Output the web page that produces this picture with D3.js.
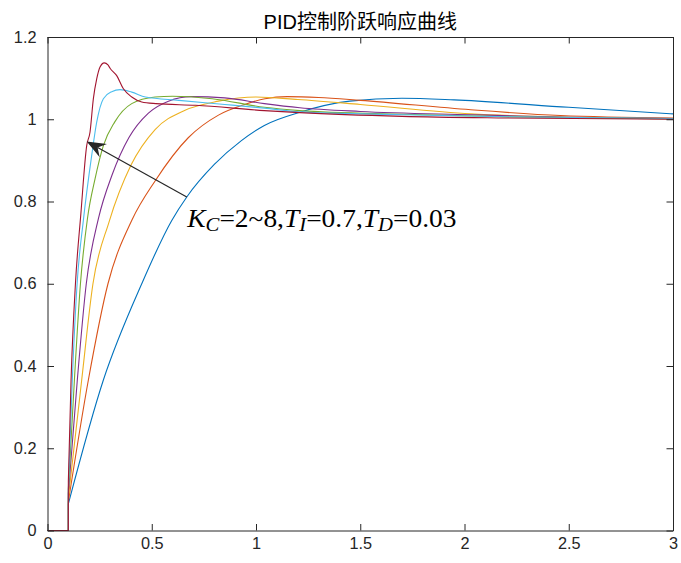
<!DOCTYPE html>
<html>
<head>
<meta charset="utf-8">
<script src="https://cdn.jsdelivr.net/npm/d3@7"></script>
<style>
  body { margin: 0; background: #fff; }
  svg { display: block; }
</style>
</head>
<body>
<script>
// step responses, one [t, y] list per Kc
const kc2 = [[0, 0], [0.1, 0], [0.1, 0.065], [0.268, 0.366], [0.452, 0.6], [0.596, 0.754], [0.668, 0.811], [0.8, 0.89], [0.93, 0.948], [1.04, 0.985], [1.21, 1.017], [1.45, 1.044], [1.7, 1.051], [1.95, 1.047], [2.5, 1.029], [3, 1.013]];
const kc3 = [[0, 0], [0.1, 0], [0.1, 0.07], [0.196, 0.366], [0.29, 0.6], [0.405, 0.755], [0.516, 0.85], [0.675, 0.955], [0.82, 1.01], [0.947, 1.036], [1.043, 1.05], [1.15, 1.055], [1.3, 1.053], [1.5, 1.046], [2.03, 1.023], [2.46, 1.009], [3, 1.003]];
const kc4 = [[0, 0], [0.1, 0], [0.1, 0.08], [0.164, 0.366], [0.218, 0.6], [0.295, 0.75], [0.4, 0.888], [0.516, 0.975], [0.66, 1.022], [0.82, 1.044], [1, 1.054], [1.2, 1.048], [1.5, 1.036], [2.03, 1.013], [2.5, 1.005], [3, 1.002]];
const kc5 = [[0, 0], [0.1, 0], [0.1, 0.09], [0.143, 0.366], [0.186, 0.6], [0.245, 0.76], [0.31, 0.865], [0.39, 0.955], [0.484, 1.015], [0.58, 1.044], [0.69, 1.055], [0.85, 1.052], [1.04, 1.038], [1.21, 1.028], [1.5, 1.019], [2.03, 1.011], [2.5, 1.005], [3, 1.002]];
const kc6 = [[0, 0], [0.1, 0], [0.1, 0.1], [0.129, 0.366], [0.158, 0.6], [0.192, 0.76], [0.228, 0.855], [0.268, 0.936], [0.322, 0.993], [0.404, 1.038], [0.516, 1.054], [0.6, 1.056], [0.79, 1.05], [1.04, 1.029], [1.21, 1.021], [1.7, 1.012], [2.2, 1.006], [3, 1.001]];
const kc7 = [[0, 0], [0.1, 0], [0.1, 0.1], [0.119, 0.366], [0.142, 0.6], [0.172, 0.754], [0.212, 0.912], [0.236, 0.993], [0.268, 1.05], [0.308, 1.067], [0.348, 1.072], [0.404, 1.066], [0.47, 1.054], [0.63, 1.046], [0.85, 1.036], [1.04, 1.027], [1.21, 1.018], [1.7, 1.011], [2.2, 1.006], [3, 1.002]];
const kc8 = [[0, 0], [0.1, 0], [0.1, 0.12], [0.113, 0.366], [0.134, 0.6], [0.16, 0.77], [0.188, 0.936], [0.204, 0.969], [0.22, 1.05], [0.236, 1.098], [0.252, 1.127], [0.272, 1.137], [0.29, 1.132], [0.3, 1.124], [0.332, 1.106], [0.364, 1.074], [0.404, 1.054], [0.452, 1.042], [0.52, 1.038], [0.71, 1.034], [1.04, 1.021], [1.21, 1.016], [1.7, 1.007], [2.2, 1.003], [3, 1]];

const curves = [kc2, kc3, kc4, kc5, kc6, kc7, kc8];
const colors = ["#0072BD", "#D95319", "#EDB120", "#7E2F8E", "#77AC30", "#4DBEEE", "#A2142F"];

const xTicks = [0, 0.5, 1, 1.5, 2, 2.5, 3];
const yTicks = [0, 0.2, 0.4, 0.6, 0.8, 1, 1.2];

const title = "PID控制阶跃响应曲线";
// arrow from the label to the Kc=8 curve, in data units
const arrowFrom = [0.668, 0.811];
const arrowTo = [0.188, 0.946];

const width = 681,
  height = 563;
const margin = { top: 37, right: 8, bottom: 32.5, left: 47.5 };
const axisColor = "#262626",
  tickFont = "'Liberation Sans', Arial, sans-serif";

const x = d3.scaleLinear().domain([0, 3]).range([margin.left, width - margin.right]);
const y = d3.scaleLinear().domain([0, 1.2]).range([height - margin.bottom, margin.top]);

const svg = d3
  .select("body")
  .append("svg")
  .attr("width", width)
  .attr("height", height);

svg.append("rect").attr("width", width).attr("height", height).attr("fill", "#fff");

const flatLine = d3
  .line()
  .x((d) => x(d[0]))
  .y((d) => y(d[1]));
const riseLine = d3
  .line()
  .x((d) => x(d[0]))
  .y((d) => y(d[1]))
  .curve(d3.curveMonotoneX);

// dead time part is straight, the response after the jump is smoothed
const curvePath = (d) => {
  const k = d.findIndex((p) => p[1] > 0);
  return flatLine(d.slice(0, k)) + "L" + riseLine(d.slice(k)).slice(1);
};

svg
  .append("g")
  .attr("fill", "none")
  .attr("stroke-width", 1.1)
  .attr("stroke-linejoin", "round")
  .selectAll("path")
  .data(curves)
  .join("path")
  .attr("stroke", (d, i) => colors[i])
  .attr("d", curvePath);

// axes, MATLAB style: ticks inside on all four sides
const fmt = (d) => String(d);

svg
  .append("g")
  .attr("transform", `translate(0,${y(0)})`)
  .call(d3.axisBottom(x).tickValues(xTicks).tickFormat(fmt).tickSizeInner(-6.5).tickSizeOuter(0).tickPadding(7));

svg
  .append("g")
  .attr("transform", `translate(${x(0)},0)`)
  .call(d3.axisLeft(y).tickValues(yTicks).tickFormat(fmt).tickSizeInner(-6.5).tickSizeOuter(0).tickPadding(11));

svg
  .append("g")
  .attr("transform", `translate(0,${y(1.2)})`)
  .call(d3.axisTop(x).tickValues(xTicks).tickFormat("").tickSizeInner(-6.5).tickSizeOuter(0));

svg
  .append("g")
  .attr("transform", `translate(${x(3)},0)`)
  .call(d3.axisRight(y).tickValues(yTicks).tickFormat("").tickSizeInner(-6.5).tickSizeOuter(0));

svg.selectAll(".domain, .tick line").attr("stroke", axisColor).attr("stroke-width", 1);
svg
  .selectAll(".tick text")
  .attr("fill", axisColor)
  .attr("font-family", tickFont)
  .attr("font-size", 16.3);

// title
svg
  .append("text")
  .attr("x", (x(0) + x(3)) / 2)
  .attr("y", 29)
  .attr("text-anchor", "middle")
  .attr("fill", "#000")
  .attr("font-family", "'Liberation Sans', 'Noto Sans CJK SC', Arial, sans-serif")
  .attr("font-size", 20)
  .text(title);

// annotation arrow
const [x1, y1] = [x(arrowFrom[0]), y(arrowFrom[1])];
const [x2, y2] = [x(arrowTo[0]), y(arrowTo[1])];
const ang = Math.atan2(y2 - y1, x2 - x1);
const headLen = 19,
  headHalf = 7.5,
  notch = 12.5;
const rot = (l, w) => [
  x2 - l * Math.cos(ang) + w * Math.sin(ang),
  y2 - l * Math.sin(ang) - w * Math.cos(ang),
];

svg
  .append("line")
  .attr("x1", x1)
  .attr("y1", y1)
  .attr("x2", rot(notch, 0)[0])
  .attr("y2", rot(notch, 0)[1])
  .attr("stroke", axisColor)
  .attr("stroke-width", 1.2);

svg
  .append("path")
  .attr("fill", axisColor)
  .attr("d", "M" + [[x2, y2], rot(headLen, headHalf), rot(notch, 0), rot(headLen, -headHalf)].join("L") + "Z");

// label  K_C=2~8,T_I=0.7,T_D=0.03 (glyphs in the figure are a bit wide)
const label = svg
  .append("text")
  .attr("transform", `translate(${x1 + 0.5},226.5) scale(1.12,1)`)
  .attr("font-family", "'Liberation Serif', 'Times New Roman', serif")
  .attr("font-size", 24.5)
  .attr("fill", "#000");

const parts = [
  ["K", "i", 0],
  ["C", "i", 1],
  ["=2~8,", "n", 0],
  ["T", "i", 0],
  ["I", "i", 1],
  ["=0.7,", "n", 0],
  ["T", "i", 0],
  ["D", "i", 1],
  ["=0.03", "n", 0],
];
let prevSub = 0;
parts.forEach(([t, style, sub]) => {
  label
    .append("tspan")
    .attr("font-style", style === "i" ? "italic" : "normal")
    .attr("font-size", sub ? 18.5 : 24.5)
    .attr("dy", sub - prevSub ? (sub ? 4 : -4) : 0)
    .text(t);
  prevSub = sub;
});
</script>
</body>
</html>
